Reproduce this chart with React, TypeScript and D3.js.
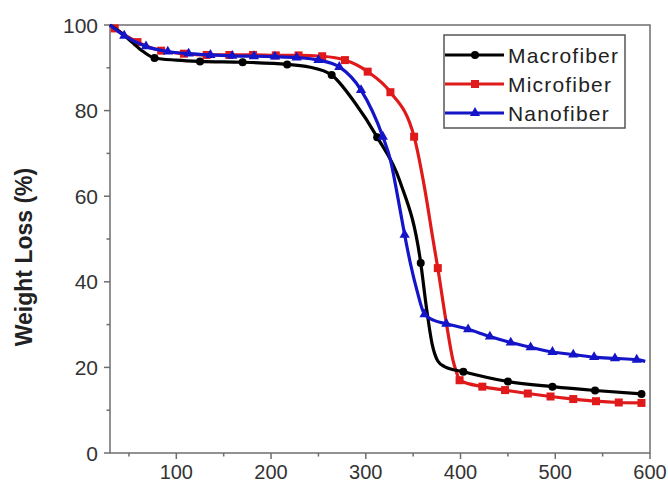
import React, { useEffect, useRef } from 'react'
import * as d3 from 'd3'

// temperature (°C) / weight (%)
const macroT = [30, 40, 53, 65, 77, 100, 125, 170, 217, 240, 264, 288, 312, 336, 358, 364, 370, 376, 383, 403, 450, 497, 542, 591]
const macroW = [100, 98.5, 96, 93.8, 92.3, 91.8, 91.5, 91.3, 90.8, 90.2, 88.3, 82, 73.8, 63.5, 44.4, 34, 25.5, 21.5, 20.2, 19, 16.7, 15.5, 14.6, 13.8]
const macroMarks = [77, 125, 170, 217, 264, 312, 358, 403, 450, 497, 542, 591]

const microT = [30, 35, 59, 84, 108, 132, 156, 181, 205, 229, 254, 278, 302, 326, 351, 362, 371, 376, 385, 392, 396, 399, 423, 447, 471, 495, 519, 543, 567, 591]
const microW = [100, 99.2, 96, 94, 93.3, 93, 93, 93, 92.9, 92.9, 92.7, 91.8, 89.1, 84.3, 73.9, 62, 49.8, 43.2, 30.4, 21.7, 18.7, 17, 15.5, 14.7, 13.9, 13.2, 12.6, 12.1, 11.8, 11.7]
const microMarks = [35, 59, 84, 108, 132, 156, 181, 205, 229, 254, 278, 302, 326, 351, 376, 399, 423, 447, 471, 495, 519, 543, 567, 591]

const nanoT = [30, 45, 68, 91, 113, 136, 159, 182, 204, 227, 250, 272, 295, 318, 326, 334, 341, 347, 354, 362, 372, 385, 408, 431, 453, 474, 497, 519, 541, 563, 586, 595]
const nanoW = [100, 97.5, 95, 93.8, 93.3, 93, 92.8, 92.7, 92.6, 92.4, 91.8, 90.2, 84.8, 73.9, 68.5, 59.5, 51, 44.4, 38, 32.4, 31, 30.2, 28.9, 27.2, 25.8, 24.7, 23.6, 23, 22.4, 22.1, 21.8, 21.4]
const nanoMarks = [45, 68, 91, 113, 136, 159, 182, 204, 227, 250, 272, 295, 318, 341, 362, 385, 408, 431, 453, 474, 497, 519, 541, 563, 586]

const seriesNames = ['Macrofiber', 'Microfiber', 'Nanofiber']
const seriesColors = ['#000000', '#e01a1a', '#1414c8']
const seriesShapes = ['circle', 'square', 'triangle']

const xTicks = [100, 200, 300, 400, 500, 600]
const xMinor = [50, 150, 250, 350, 450, 550]
const yTicks = [0, 20, 40, 60, 80, 100]
const yMinor = [10, 30, 50, 70, 90]

const W = 668
const H = 484

export default function App() {
  const svgRef = useRef<SVGSVGElement>(null)

  useEffect(() => {
    document.body.style.margin = '0'
    const svg = d3.select(svgRef.current)
    svg.selectAll('*').remove()

    const left = 110, right = 650, top = 25, bottom = 453
    const x = d3.scaleLinear().domain([30, 600]).range([left, right])
    const y = d3.scaleLinear().domain([0, 100]).range([bottom, top])

    const series = [
      { t: macroT, w: macroW, marks: macroMarks },
      { t: microT, w: microW, marks: microMarks },
      { t: nanoT, w: nanoW, marks: nanoMarks },
    ].map((s, i) => ({
      name: seriesNames[i],
      color: seriesColors[i],
      shape: seriesShapes[i],
      points: s.t.map((t, j) => ({ t, w: s.w[j], mark: s.marks.includes(t) })),
    }))

    const font = 'Arial, "Liberation Sans", sans-serif'
    const axisColor = '#6e6e6e'

    // frame
    svg.append('rect')
      .attr('x', left).attr('y', top)
      .attr('width', right - left).attr('height', bottom - top)
      .attr('fill', 'none').attr('stroke', axisColor).attr('stroke-width', 1.5)

    // x axis
    const gx = svg.append('g')
    gx.selectAll('line.maj').data(xTicks).join('line')
      .attr('x1', d => x(d)).attr('x2', d => x(d))
      .attr('y1', bottom).attr('y2', bottom + 6)
      .attr('stroke', axisColor).attr('stroke-width', 1.5)
    gx.selectAll('line.min').data(xMinor).join('line')
      .attr('x1', d => x(d)).attr('x2', d => x(d))
      .attr('y1', bottom).attr('y2', bottom + 3.5)
      .attr('stroke', axisColor).attr('stroke-width', 1.5)
    gx.selectAll('text').data(xTicks).join('text')
      .attr('x', d => x(d)).attr('y', bottom + 26)
      .attr('text-anchor', 'middle')
      .attr('font-family', font).attr('font-size', 20).attr('fill', '#333')
      .text(d => d)

    // y axis
    const gy = svg.append('g')
    gy.selectAll('line.maj').data(yTicks).join('line')
      .attr('x1', left - 6).attr('x2', left)
      .attr('y1', d => y(d)).attr('y2', d => y(d))
      .attr('stroke', axisColor).attr('stroke-width', 1.5)
    gy.selectAll('line.min').data(yMinor).join('line')
      .attr('x1', left - 3.5).attr('x2', left)
      .attr('y1', d => y(d)).attr('y2', d => y(d))
      .attr('stroke', axisColor).attr('stroke-width', 1.5)
    gy.selectAll('text').data(yTicks).join('text')
      .attr('x', left - 12).attr('y', d => y(d))
      .attr('dy', '0.36em')
      .attr('text-anchor', 'end')
      .attr('font-family', font).attr('font-size', 21).attr('fill', '#333')
      .text(d => d)

    svg.append('text')
      .attr('transform', `translate(32,${(top + bottom) / 2 + 18}) rotate(-90)`)
      .attr('text-anchor', 'middle')
      .attr('font-family', font).attr('font-size', 23).attr('font-weight', 'bold')
      .attr('fill', '#222')
      .text('Weight Loss (%)')

    const line = d3.line<{ t: number; w: number }>()
      .x(d => x(d.t)).y(d => y(d.w))
      .curve(d3.curveMonotoneX)

    const drawMarker = (g: any, shape: string, color: string, cx: number, cy: number) => {
      if (shape === 'circle') {
        g.append('circle').attr('cx', cx).attr('cy', cy).attr('r', 4).attr('fill', color)
      } else if (shape === 'square') {
        g.append('rect').attr('x', cx - 4).attr('y', cy - 4).attr('width', 8).attr('height', 8).attr('fill', color)
      } else {
        g.append('path')
          .attr('d', d3.symbol().type(d3.symbolTriangle).size(45)())
          .attr('transform', `translate(${cx},${cy})`)
          .attr('fill', color)
      }
    }

    // draw red first so black / blue sit on top like the original
    const order = [1, 0, 2]
    order.forEach(i => {
      const s = series[i]
      const g = svg.append('g')
      g.append('path')
        .attr('d', line(s.points))
        .attr('fill', 'none')
        .attr('stroke', s.color)
        .attr('stroke-width', 3.2)
        .attr('stroke-linejoin', 'round')
      s.points.filter(p => p.mark).forEach(p => drawMarker(g, s.shape, s.color, x(p.t), y(p.w)))
    })

    // legend
    const lx = 444, ly = 35, lw = 181, lh = 93
    const lg = svg.append('g')
    lg.append('rect')
      .attr('x', lx).attr('y', ly).attr('width', lw).attr('height', lh)
      .attr('fill', '#fff').attr('stroke', '#555').attr('stroke-width', 1.5)
    series.forEach((s, i) => {
      const ry = ly + 20 + i * 29
      lg.append('line')
        .attr('x1', lx + 1).attr('x2', lx + 60)
        .attr('y1', ry).attr('y2', ry)
        .attr('stroke', s.color).attr('stroke-width', 3.2)
      drawMarker(lg, s.shape, s.color, lx + 31, ry)
      lg.append('text')
        .attr('x', lx + 64).attr('y', ry)
        .attr('dy', '0.36em')
        .attr('font-family', font).attr('font-size', 21)
        .attr('letter-spacing', 1.2)
        .attr('fill', '#222')
        .text(s.name)
    })
  }, [])

  return (
    <svg
      ref={svgRef}
      width={W}
      height={H}
      style={{ position: 'absolute', left: 0, top: 0, background: '#fff' }}
    />
  )
}
